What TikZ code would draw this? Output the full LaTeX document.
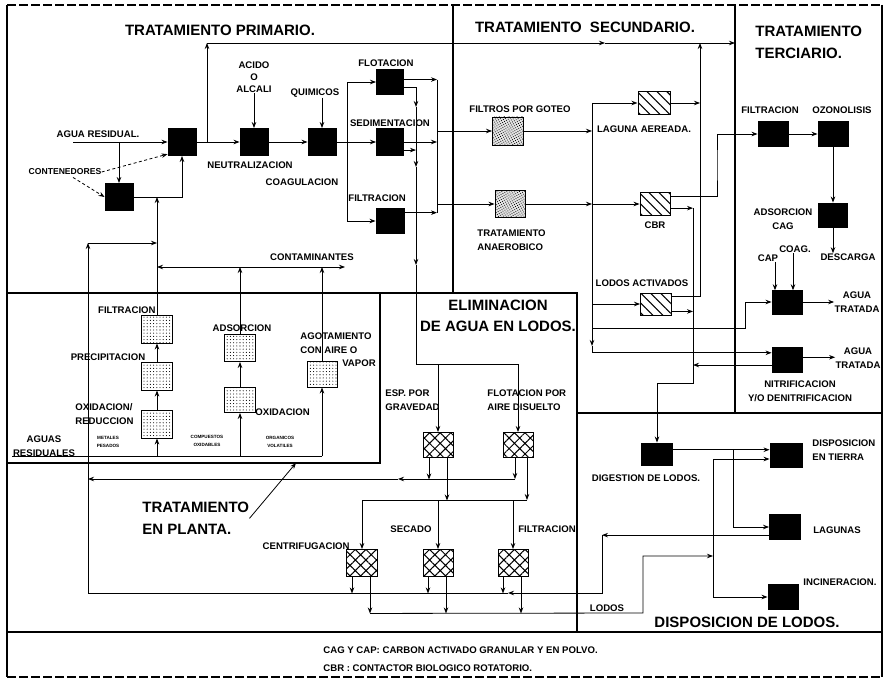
\documentclass[tikz,border=0pt]{standalone}
\usepackage{fontspec}
\setmainfont{Liberation Sans}
\usepackage{tikz}
\usetikzlibrary{arrows.meta,calc,positioning,patterns.meta}
\newcommand\lblfont{\fontsize{9.6}{13.5}\selectfont\bfseries}
\newcommand\ttlfont{\fontsize{15}{21.5}\selectfont\bfseries}
\newcommand\minifont{\fontsize{4.6}{8.5}\selectfont\bfseries}

\begin{document}
\begin{tikzpicture}[x=1pt,y=-1pt,>={Stealth[length=6pt,width=4.5pt]},line width=0.8pt,
  every node/.style={font=\lblfont,inner sep=0pt},
  caja/.style={draw,line width=0.9pt,minimum width=30pt,minimum height=25pt},
  negra/.style={caja,fill=black},
  puntos/.style={caja,pattern={Dots[distance=3.2pt,radius=0.55pt]}},
  grano/.style={caja,preaction={fill=gray!22},pattern={Dots[distance=2.2pt,radius=0.55pt,angle=30]}},
  rayas/.style={caja,pattern={Lines[angle=-45,distance=7pt,line width=1.1pt]}},
  malla/.style={caja,pattern={Hatch[angle=45,distance=7.5pt,line width=1pt]}},
  titulo/.style={font=\ttlfont},
  zona/.style={line width=1.1pt}]
  \useasboundingbox (0,0) rectangle (887,682);

  % Marco y zonas
  \draw[zona] (7,5) -- (7,677);
  \draw[zona] (882,5) -- (882,677);
  \draw[zona,dash pattern=on 9pt off 3pt] (7,5) -- (882,5);
  \draw[zona,dash pattern=on 9pt off 3pt] (7,677) -- (882,677);
  \draw[zona] (7,632) -- (882,632);
  \draw[zona] (453,5) -- (453,293);
  \draw[zona] (735,5) -- (735,413);
  \draw[zona] (7,293) -- (577,293) -- (577,632);
  \draw[zona] (577,413) -- (882,413);
  \draw[zona] (380,293) -- (380,463) -- (7,463);

  % Titulos
  \node[titulo] (tprim) at (220,30) {TRATAMIENTO PRIMARIO.};
  \node[titulo] (tsec) at (585,27) {TRATAMIENTO\ \ SECUNDARIO.};
  \node[titulo,align=left,anchor=north west] (tter) at (755,26) {TRATAMIENTO\\TERCIARIO.};
  \node[titulo,align=center] (telim) at (498,316) {ELIMINACION\\DE AGUA EN LODOS.};
  \node[titulo,align=left,anchor=north west] (planta) at (142,502) {TRATAMIENTO\\EN PLANTA.};
  \node[titulo] (tdisp) at (747,622) {DISPOSICION DE LODOS.};
  \node[font=\fontsize{9.6}{18}\selectfont\bfseries,align=left,anchor=west] (nota) at (323,659)
    {CAG Y CAP: CARBON ACTIVADO GRANULAR Y EN POLVO.\\CBR : CONTACTOR BIOLOGICO ROTATORIO.};

  % Tratamiento primario
  \node[negra,minimum width=28pt,minimum height=27pt] (mezA) at (182,142) {};
  \node[negra,minimum width=28pt,minimum height=27pt] (mezB) at (119,197) {};
  \node[negra,minimum width=28pt,minimum height=27pt] (neut) at (254,142) {};
  \node[negra,minimum width=28pt,minimum height=27pt] (coag) at (322,142) {};
  \node[negra,minimum width=27pt] (flot) at (390,82) {};
  \node[negra,minimum width=27pt,minimum height=27pt] (sedim) at (390,142) {};
  \node[negra,minimum width=28pt] (filtp) at (390,221) {};

  \node (aguares) at (98,134) {AGUA RESIDUAL.};
  \node[font=\fontsize{8.6}{10}\selectfont\bfseries] (conten) at (65,172) {CONTENEDORES};
  \node[font=\fontsize{9.6}{12}\selectfont\bfseries,align=center] (acido) at (254,77) {ACIDO\\O\\ALCALI};
  \node (neutl) at (250,165) {NEUTRALIZACION};
  \node (quim) at (315,93) {QUIMICOS};
  \node (coagl) at (302,182) {COAGULACION};
  \node (flotl) at (386,63) {FLOTACION};
  \node (sediml) at (390,123) {SEDIMENTACION};
  \node[anchor=west] (filtpl1) at (348,198) {FILTRACION};

  % Tratamiento secundario
  \node[grano,minimum width=31pt,minimum height=28pt] (goteo) at (508,131) {};
  \node[grano,minimum height=27pt] (anaer) at (510,204) {};
  \node[rayas,minimum width=32pt,minimum height=23pt] (laguna) at (654,103) {};
  \node[rayas,minimum height=23pt] (cbr) at (655,204) {};
  \node[rayas,minimum width=31pt,minimum height=22pt] (lodact) at (656,304) {};

  \node (goteol) at (520,109) {FILTROS POR GOTEO};
  \node[align=left,anchor=west] (anaerl) at (477,240) {TRATAMIENTO\\ANAEROBICO};
  \node (lagunal) at (644,129) {LAGUNA AEREADA.};
  \node (cbrl) at (655,225) {CBR};
  \node (lodactl) at (642,283) {LODOS ACTIVADOS};

  % Tratamiento terciario
  \node[negra] (filtt) at (773,134) {};
  \node[negra] (ozono) at (833,134) {};
  \node[negra,minimum width=29pt,minimum height=24pt] (adsor) at (833,215) {};
  \node[negra,minimum height=24pt] (dosif) at (787,302) {};
  \node[negra] (nitri) at (787,360) {};

  \node (filttl) at (770,110) {FILTRACION};
  \node (ozonol) at (842,110) {OZONOLISIS};
  \node[align=center] (adsorl) at (783,219) {ADSORCION\\CAG};
  \node (desc) at (848,257) {DESCARGA};
  \node (cap) at (768,258) {CAP};
  \node (coagt) at (795,249) {COAG.};
  \node[align=center] (agua1) at (857,302) {AGUA\\TRATADA};
  \node[align=center] (agua2) at (858,358) {AGUA\\TRATADA};
  \node[align=center] (nitril) at (800,391) {NITRIFICACION\\Y/O DENITRIFICACION};

  % Disposicion de lodos
  \node[negra,minimum width=31pt,minimum height=22pt] (dig) at (657,454) {};
  \node[negra,minimum width=32pt,minimum height=24pt] (tierra) at (786,455) {};
  \node[negra,minimum width=31pt] (lagunas) at (785,527) {};
  \node[negra] (incin) at (783,597) {};

  \node (digl) at (646,478) {DIGESTION DE LODOS.};
  \node[align=left,anchor=west] (tierral) at (812,450) {DISPOSICION\\EN TIERRA};
  \node (lagunasl) at (837,530) {LAGUNAS};
  \node (incinl) at (840,582) {INCINERACION.};
  \node[anchor=south] (lodos) at (607,612) {LODOS};

  % Eliminacion de agua en lodos
  \node[malla] (esp) at (438,445) {};
  \node[malla] (flaire) at (518,445) {};
  \node[malla,minimum width=31pt,minimum height=27pt] (centr) at (362,563) {};
  \node[malla,minimum height=27pt] (secado) at (438,563) {};
  \node[malla,minimum height=27pt] (filte) at (513,563) {};

  \node[align=left,anchor=west] (espl) at (385,400) {ESP. POR\\GRAVEDAD};
  \node[align=left,anchor=west] (flairel) at (487,400) {FLOTACION POR\\AIRE DISUELTO};
  \node[anchor=east] (centrl) at (350,546) {CENTRIFUGACION};
  \node (secadol) at (411,529) {SECADO};
  \node (filtel) at (547,529) {FILTRACION};

  % Tratamiento en planta
  \node[puntos,minimum width=31pt,minimum height=28pt] (oxred) at (157,424) {};
  \node[puntos,minimum width=31pt,minimum height=28pt] (precip) at (157,376) {};
  \node[puntos,minimum width=31pt,minimum height=28pt] (filtpl) at (157,329) {};
  \node[puntos,minimum width=31pt] (oxi) at (240,400) {};
  \node[puntos,minimum width=31pt,minimum height=27pt] (adsp) at (240,348) {};
  \node[puntos,minimum height=26pt] (agot) at (322,374) {};

  \node[anchor=east] (filtpll) at (156,310) {FILTRACION};
  \node (precipl) at (108,357) {PRECIPITACION};
  \node[align=left,anchor=west] (oxredl) at (75,414) {OXIDACION/\\REDUCCION};
  \node (adspl) at (242,328) {ADSORCION};
  \node[anchor=west] (oxil) at (255,412) {OXIDACION};
  \node[align=left,anchor=west] (agotl) at (300,343) {AGOTAMIENTO\\CON AIRE O};
  \node (vaporl) at (359,363) {VAPOR};
  \node (contl) at (312,257) {CONTAMINANTES};
  \node[align=center] (aguasl) at (44,446) {AGUAS\\RESIDUALES};
  \node[font=\minifont,align=center] (tx1) at (108,442) {METALES\\PESADOS};
  \node[font=\minifont,align=center] (tx2) at (207,441) {COMPUESTOS\\OXIDABLES};
  \node[font=\minifont,align=center] (tx3) at (280,442) {ORGANICOS\\VOLATILES};

  % Puntos de union
  \coordinate (entA) at (73,142);
  \coordinate (byp) at (207,142);
  \coordinate (bypT) at (207,43);
  \coordinate (bypM) at (605,43);
  \coordinate (terIn) at (735,43);
  \coordinate (colP) at (347,142);
  \coordinate (colR) at (437,79.6);
  \coordinate (colRb) at (437,213);
  \coordinate (lod1) at (416,107);
  \coordinate (lod2) at (416,167);
  \coordinate (lod3) at (416,265);
  \coordinate (lod4) at (416,364);
  \coordinate (secL) at (592,103);
  \coordinate (secLc) at (592,328);
  \coordinate (secLb) at (592,346);
  \coordinate (secR) at (700,43);
  \coordinate (cbrK) at (717,165);
  \coordinate (digK) at (693,383);
  \coordinate (secD) at (cbr.-15 -| digK);
  \coordinate (dosK) at (745,328);
  \coordinate (dspJ) at (733,450);
  \coordinate (lodV) at (713,459);
  \coordinate (lodVb) at (713,597);
  \coordinate (lodE) at (643,613);
  \coordinate (lodK) at (643,556);
  \coordinate (lodJ) at (713,556);
  \coordinate (ret1) at (602,593);
  \coordinate (ret2) at (508,593);
  \coordinate (ret3) at (88,593);
  \coordinate (ret4) at (88,243);
  \coordinate (agu1) at (515,479);
  \coordinate (agu2) at (398,479);
  \coordinate (agu3) at (88,479);
  \coordinate (lodo2) at (527,500);
  \coordinate (arIn) at (12,456);
  \coordinate (arEnd) at (322,456);
  \coordinate (cont1) at (157,267);
  \coordinate (cont2) at (345,267);
  \coordinate (plantaP) at (296,463);

  % Flujo primario
  \draw[->] (entA) -- (mezA.west);
  \draw[->] (entA -| mezB.north) -- (mezB.north);
  \draw[->] (mezB.east) -| (mezA.south);
  \draw[dash pattern=on 3pt off 2.5pt,->] (conten.east) -- (mezA.220);
  \draw[dash pattern=on 3pt off 2.5pt,->] ($(conten.south)+(8,2)$) -- (mezB.west);
  \draw[->] (mezA.east) -- (neut.west);
  \draw[->] (byp) -- (bypT);
  \draw[->] (bypT) -- (bypM);
  \draw[->] (bypM) -- (terIn);
  \draw[->] (acido.south) -- (neut.north);
  \draw[->] (quim.south -| coag.north) -- (coag.north);
  \draw[->] (neut.east) -- (coag.west);
  \draw (coag.east) -- (colP);
  \draw[->] (colP) |- (flot.west);
  \draw[->] (colP) -- (sedim.west);
  \draw[->] (colP) |- (filtp.west);
  \draw[->] (flot.10) -- (flot.10 -| colR);
  \draw[->] (sedim.east) -- (sedim.east -| colR);
  \draw[->] (filtp.30) -- (filtp.30 -| colR);
  \draw (colR) -- (colRb);
  \draw[->] (goteo.west -| colR) -- (goteo.west);
  \draw[->] (anaer.west -| colR) -- (anaer.west);

  % Lodos primarios
  \draw[->] (flot.-20) -| (lod1);
  \draw[->] (lod1) -- (lod2);
  \draw[->] (lod2) -- (lod3);
  \draw (lod3) -- (lod4);
  \draw[->] (sedim.-30) -- (sedim.-30 -| lod1);
  \draw[->] (lod4) -| (esp.north);
  \draw[->] (lod4) -| (flaire.north);

  % Flujo secundario
  \draw[->] (goteo.east) -- (goteo.east -| secL);
  \draw[->] (anaer.east) -- (anaer.east -| secL);
  \draw[->] (secL) -- (laguna.west);
  \draw[->] (cbr.west -| secL) -- (cbr.west);
  \draw[->] (lodact.west -| secL) -- (lodact.west);
  \draw[->] (secL) -- (secLb);
  \draw[->] (secLb) |- (nitri.155);
  \draw[->] (secLc) -- (dosK) |- (dosif.west);
  \draw[->] (laguna.east) -- (laguna.east -| secR);
  \draw[->] (lodact.24) -| (secR);
  \draw[->] (cbr.25) -| (cbrK) |- (filtt.west);
  \draw[->] (cbr.-15) -- (secD);
  \draw[->] (lodact.-25) -- (lodact.-25 -| secD);
  \draw[->] (nitri.198) -- (nitri.198 -| secD);
  \draw[->] (secD) -- (digK) -| (dig.north);

  % Flujo terciario
  \draw[->] (filtt.east) -- (ozono.west);
  \draw[->] (ozono.south) -- (adsor.north);
  \draw[->] (adsor.south) -- (adsor.south |- desc.north);
  \draw[->] ([xshift=7pt]cap.south) -- ++(0,28.5);
  \draw[->] ([xshift=-2pt]coagt.south) -- ++(0,37.5);
  \draw[->] (dosif.east) -- (dosif.east -| agua1.west);
  \draw[->] (nitri.10) -- (nitri.10 -| agua2.west);

  % Disposicion
  \draw[->] (dig.15) -- (dig.15 -| tierra.west);
  \draw[->] (dspJ) |- (lagunas.west);
  \draw[->] (lodV) -- (lodV -| tierra.west);
  \draw (lodV) -- (lodVb);
  \draw[->] (lodVb) -- (lodVb -| incin.west);
  \draw[->] ([xshift=8pt]centr.south) ++(0,36.5) -- (lodE) -- (lodK) -- (lodJ);
  \draw[->] (lagunas.207) -- (lagunas.207 -| ret1);
  \draw[->] (lagunas.207 -| ret1) -- (ret1) -- (ret2);
  \draw (ret2) -- (ret3);
  \draw[->] (ret3) -- (ret4);
  \draw[->] (ret4) -- (ret4 -| filtpl.north);

  % Eliminacion de agua
  \draw[->] ([xshift=-9pt]esp.south) -- ++(0,21.5);
  \draw[->] ([xshift=9pt]esp.south) -- ++(0,42.5);
  \draw[->] ([xshift=-3pt]flaire.south) -- (agu1);
  \draw[->] ([xshift=9pt]flaire.south) -- (lodo2);
  \draw[->] (agu1) -- (agu2);
  \draw[->] (agu2) -- (agu3);
  \draw (lodo2) -- (centr.north |- lodo2);
  \foreach \b in {centr,secado,filte}{
    \draw[->] (\b.north |- lodo2) -- (\b.north);
    \draw[->] ([xshift=-10pt]\b.south) -- ++(0,16.5);
    \draw[->] ([xshift=8pt]\b.south) -- ++(0,36.5);
  }

  % Tratamiento en planta
  \draw (arIn) -- (arEnd);
  \draw[->] (oxred.south |- arIn) -- (oxred.south);
  \draw[->] (oxi.south |- arIn) -- (oxi.south);
  \draw[->] (arEnd) -- (agot.south);
  \draw[->] (oxred.north) -- (precip.south);
  \draw[->] (precip.north) -- (filtpl.south);
  \draw[->] (filtpl.north) -- (filtpl.north |- mezB.east);
  \draw[->] (oxi.north) -- (adsp.south);
  \draw[->] (adsp.north) -- (adsp.north |- cont1);
  \draw[->] (agot.north) -- (agot.north |- cont1);
  \draw[<->] (cont1) -- (cont2);
  \draw[->] (planta.east) -- (plantaP);
\end{tikzpicture}
\end{document}
